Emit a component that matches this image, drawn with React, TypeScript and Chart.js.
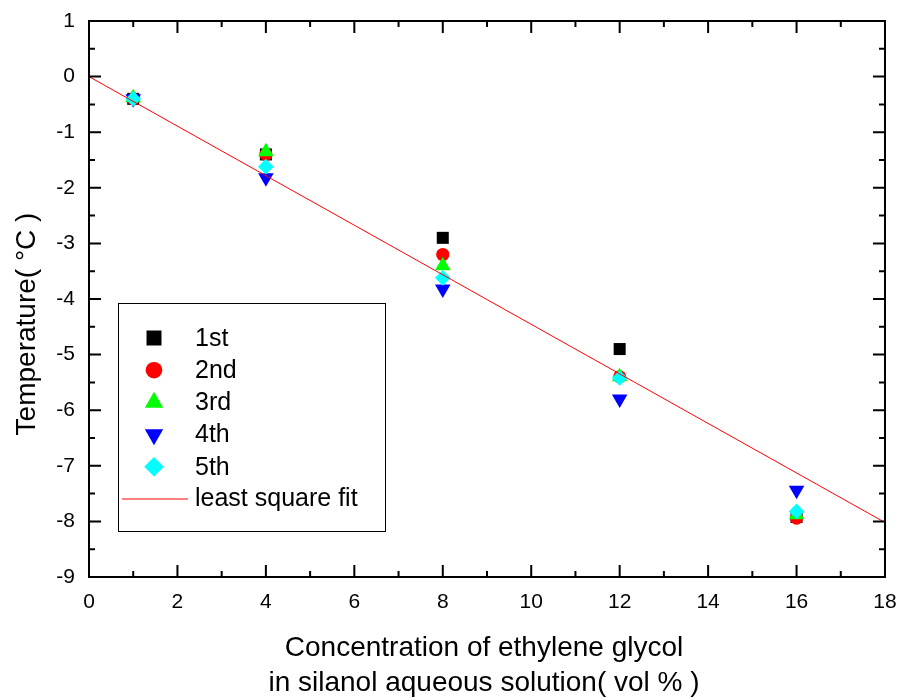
import React, { useEffect, useRef } from 'react';
import { Chart, registerables } from 'chart.js';
import { drawPoint } from 'chart.js/helpers';

Chart.register(...registerables);

// ---- data ----
const concentrations = [1, 4, 8, 12, 16];
const run1 = [-0.4, -1.4, -2.9, -4.9, -7.92];
const run2 = [-0.4, -1.4, -3.2, -5.4, -7.94];
const run3 = [-0.38, -1.35, -3.4, -5.4, -7.88];
const run4 = [-0.4, -1.82, -3.82, -5.8, -7.44];
const run5 = [-0.4, -1.62, -3.62, -5.42, -7.82];
const fitX = [0, 18];
const fitY = [0, -8.02];
const seriesNames = ['1st', '2nd', '3rd', '4th', '5th'];
const fitName = 'least square fit';
const xTitleLines = ['Concentration of ethylene glycol', 'in silanol aqueous solution( vol % )'];
const yTitle = 'Temperature( \u00B0C )';

const FONT = '"Liberation Sans", Arial, sans-serif';

const styles = [
  { color: '#000000', pointStyle: 'rect', radius: 8.5, rotation: 0, legendRadius: 10.6 },
  { color: '#ff0000', pointStyle: 'circle', radius: 6.6, rotation: 0, legendRadius: 8.3 },
  { color: '#00ff00', pointStyle: 'triangle', radius: 9, rotation: 0, legendRadius: 10.6 },
  { color: '#0000ff', pointStyle: 'triangle', radius: 9, rotation: 180, legendRadius: 10.6 },
  { color: '#00ffff', pointStyle: 'rectRot', radius: 7.8, rotation: 0, legendRadius: 9.8 },
];

const runs = [run1, run2, run3, run4, run5];

const framePlugin = {
  id: 'frameTicks',
  afterDatasetsDraw(chart: any) {
    const { ctx, chartArea } = chart;
    const xs = chart.scales.x;
    const ys = chart.scales.y;
    const { left, right, top, bottom } = chartArea;
    ctx.save();
    ctx.strokeStyle = '#000';
    ctx.lineWidth = 2;
    ctx.strokeRect(left, top, right - left, bottom - top);
    ctx.beginPath();
    for (let v = 0; v <= 18; v += 1) {
      const px = xs.getPixelForValue(v);
      const len = v % 2 === 0 ? 12 : 6;
      ctx.moveTo(px, bottom);
      ctx.lineTo(px, bottom - len);
      ctx.moveTo(px, top);
      ctx.lineTo(px, top + len);
    }
    for (let i = 0; i <= 20; i++) {
      const v = -9 + i * 0.5;
      const py = ys.getPixelForValue(v);
      const len = i % 2 === 0 ? 12 : 6;
      ctx.moveTo(left, py);
      ctx.lineTo(left + len, py);
      ctx.moveTo(right, py);
      ctx.lineTo(right - len, py);
    }
    ctx.stroke();
    ctx.restore();
  },
  afterDraw(chart: any) {
    const { ctx, chartArea } = chart;
    const { left, right, top, bottom } = chartArea;
    ctx.save();
    ctx.fillStyle = '#000';
    // y title
    ctx.font = `28px ${FONT}`;
    ctx.textAlign = 'center';
    ctx.textBaseline = 'alphabetic';
    ctx.save();
    ctx.translate(left - 54, (top + bottom) / 2 + 25);
    ctx.rotate(-Math.PI / 2);
    ctx.fillText(yTitle, 0, 0);
    ctx.restore();
    // x title
    const cx = (left + right) / 2 - 3;
    xTitleLines.forEach((line, i) => {
      ctx.fillText(line, cx, bottom + 79 + i * 35);
    });
    // legend
    const lx = left + 29;
    const ly = top + 282;
    ctx.lineWidth = 1;
    ctx.strokeStyle = '#000';
    ctx.strokeRect(lx + 0.5, ly + 0.5, 267, 228);
    ctx.font = `25px ${FONT}`;
    ctx.textAlign = 'left';
    ctx.textBaseline = 'middle';
    seriesNames.forEach((name, i) => {
      const st = styles[i];
      const ry = ly + 35 + i * 32.2;
      ctx.fillStyle = st.color;
      ctx.strokeStyle = st.color;
      drawPoint(ctx, { pointStyle: st.pointStyle, radius: st.legendRadius, rotation: st.rotation, borderWidth: 0 } as any, lx + 36, ry);
      ctx.fillStyle = '#000';
      ctx.fillText(name, lx + 77, ry + 1);
    });
    const fy = ly + 35 + 5 * 32.2;
    ctx.strokeStyle = '#ff0000';
    ctx.lineWidth = 1;
    ctx.beginPath();
    ctx.moveTo(lx + 4, fy);
    ctx.lineTo(lx + 70, fy);
    ctx.stroke();
    ctx.fillStyle = '#000';
    ctx.fillText(fitName, lx + 77, fy);
    ctx.restore();
  },
};

export default function App() {
  const canvasRef = useRef<HTMLCanvasElement | null>(null);

  useEffect(() => {
    if (!canvasRef.current) return;
    const datasets: any[] = runs.map((vals, i) => ({
      label: seriesNames[i],
      data: concentrations.map((x, j) => ({ x, y: vals[j] })),
      showLine: false,
      pointStyle: styles[i].pointStyle,
      pointRadius: styles[i].radius,
      pointRotation: styles[i].rotation,
      pointBackgroundColor: styles[i].color,
      pointBorderColor: styles[i].color,
      pointBorderWidth: 0,
      backgroundColor: styles[i].color,
      borderColor: styles[i].color,
      order: 5 - i,
    }));
    datasets.push({
      label: fitName,
      data: fitX.map((x, j) => ({ x, y: fitY[j] })),
      showLine: true,
      borderColor: '#ff0000',
      borderWidth: 1,
      pointRadius: 0,
      fill: false,
      order: -1,
    });
    const chart = new Chart(canvasRef.current, {
      type: 'scatter',
      data: { datasets },
      options: {
        animation: false,
        responsive: false,
        maintainAspectRatio: false,
        layout: { padding: { left: 0, top: 21, right: 13, bottom: 0 } },
        plugins: { legend: { display: false }, tooltip: { enabled: false }, title: { display: false } },
        scales: {
          x: {
            type: 'linear',
            min: 0,
            max: 18,
            grid: { display: false, drawTicks: false },
            border: { display: false },
            ticks: { stepSize: 2, padding: 13, color: '#000', font: { family: FONT, size: 21 } },
            afterFit: (s: any) => {
              s.height = 121;
              s.paddingLeft = 0;
              s.paddingRight = 0;
            },
          },
          y: {
            type: 'linear',
            min: -9,
            max: 1,
            grid: { display: false, drawTicks: false },
            border: { display: false },
            ticks: { stepSize: 1, padding: 14, color: '#000', font: { family: FONT, size: 21 } },
            afterFit: (s: any) => {
              s.width = 89;
              s.paddingTop = 0;
              s.paddingBottom = 0;
            },
          },
        },
      } as any,
      plugins: [framePlugin],
    });
    return () => chart.destroy();
  }, []);

  return (
    <div style={{ position: 'absolute', left: 0, top: 0, width: 898, height: 698, background: '#fff' }}>
      <canvas ref={canvasRef} width={898} height={698} style={{ display: 'block' }} />
    </div>
  );
}
